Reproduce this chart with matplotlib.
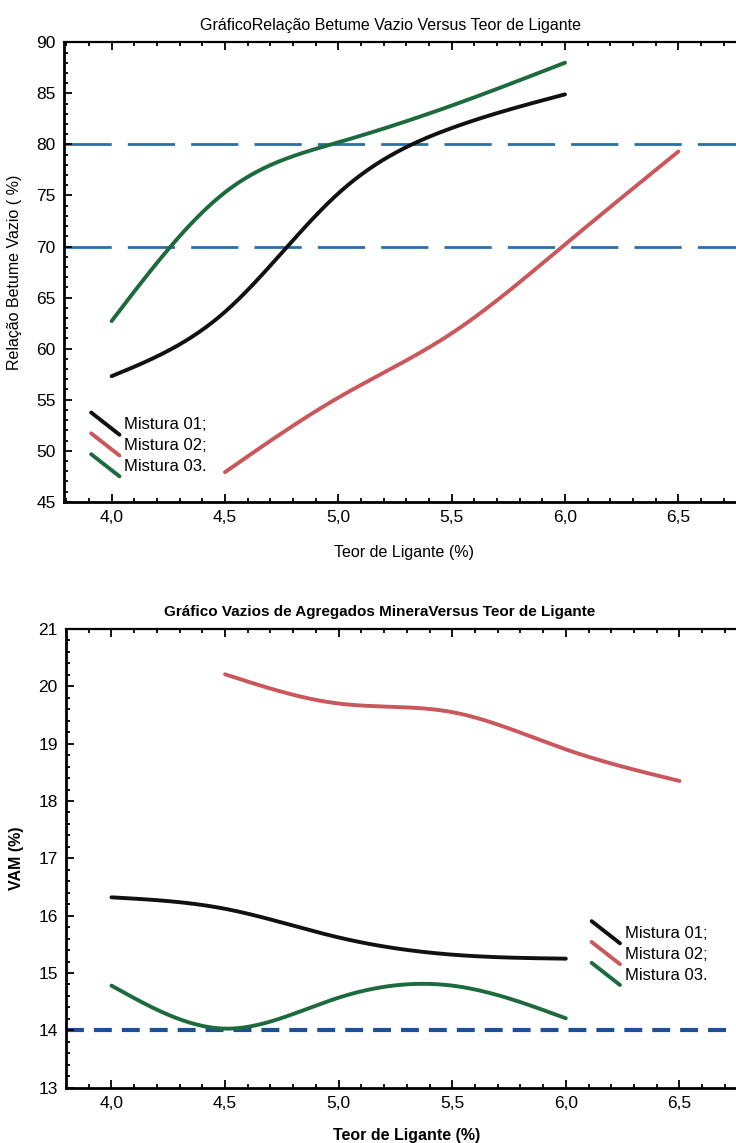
import numpy as np
import matplotlib
matplotlib.use("Agg")
import matplotlib.pyplot as plt
from matplotlib.lines import Line2D
from matplotlib.legend_handler import HandlerLine2D
from matplotlib.ticker import MultipleLocator, FixedLocator, FixedFormatter

plt.rcParams['font.family'] = ['Liberation Sans', 'DejaVu Sans']

# ---------------- data ----------------
teor_top = [4.0, 4.5, 5.0, 5.5, 6.0]
teor_m02_top = [4.5, 5.0, 5.5, 6.0, 6.5]
rbv_m01 = [57.3, 63.6, 75.2, 81.6, 84.9]
rbv_m02 = [47.9, 55.2, 61.5, 70.2, 79.3]
rbv_m03 = [62.7, 75.3, 80.2, 83.8, 88.0]
rbv_limits = [80, 70]

teor_bot = [4.0, 4.5, 5.0, 5.5, 6.0]
teor_m02_bot = [4.5, 5.0, 5.5, 6.0, 6.5]
vam_m01 = [16.32, 16.12, 15.62, 15.32, 15.25]
vam_m02 = [20.21, 19.70, 19.55, 18.90, 18.35]
vam_m03 = [14.78, 14.03, 14.57, 14.78, 14.21]
vam_limit = 14

xticks = [4.0, 4.5, 5.0, 5.5, 6.0, 6.5]
xtick_labels = ["4,0", "4,5", "5,0", "5,5", "6,0", "6,5"]
yticks_top = [45, 50, 55, 60, 65, 70, 75, 80, 85, 90]
yticks_bot = [13, 14, 15, 16, 17, 18, 19, 20, 21]
series_names = ["Mistura 01;", "Mistura 02;", "Mistura 03."]

title_top = "GráficoRelação Betume Vazio Versus Teor de Ligante"
title_bot = "Gráfico Vazios de Agregados MineraVersus Teor de Ligante"
xlabel = "Teor de Ligante (%)"
ylabel_top = "Relação Betume Vazio ( %)"
ylabel_bot = "VAM (%)"

C_BLACK = "#111111"
C_RED = "#c9575b"
C_GREEN = "#1d6a3e"
C_BLUE1 = "#2a6fa8"
C_BLUE2 = "#1b4f98"


def spline(x, y, n=200):
    """Natural cubic spline used only to render a smooth line through the points."""
    x = np.asarray(x, float); y = np.asarray(y, float)
    k = len(x)
    h = np.diff(x)
    A = np.zeros((k, k)); b = np.zeros(k)
    A[0, 0] = 1; A[-1, -1] = 1
    for i in range(1, k - 1):
        A[i, i - 1] = h[i - 1]; A[i, i] = 2 * (h[i - 1] + h[i]); A[i, i + 1] = h[i]
        b[i] = 3 * ((y[i + 1] - y[i]) / h[i] - (y[i] - y[i - 1]) / h[i - 1])
    c = np.linalg.solve(A, b)
    bb = np.zeros(k - 1); d = np.zeros(k - 1)
    for i in range(k - 1):
        bb[i] = (y[i + 1] - y[i]) / h[i] - h[i] * (2 * c[i] + c[i + 1]) / 3
        d[i] = (c[i + 1] - c[i]) / (3 * h[i])
    xs = np.linspace(x[0], x[-1], n)
    idx = np.clip(np.searchsorted(x, xs) - 1, 0, k - 2)
    dx = xs - x[idx]
    ys = y[idx] + bb[idx] * dx + c[idx] * dx ** 2 + d[idx] * dx ** 3
    return xs, ys


class DiagHandler(HandlerLine2D):
    def create_artists(self, legend, orig_handle, xdescent, ydescent, width, height, fontsize, trans):
        line = Line2D([-xdescent, -xdescent + width],
                      [-ydescent + height * 1.45, -ydescent - height * 0.45])
        self.update_prop(line, orig_handle, legend)
        line.set_transform(trans)
        return [line]


def style_axes(ax, yticks, yminor):
    ax.set_xlim(3.79, 6.79)
    ax.xaxis.set_major_locator(FixedLocator(xticks))
    ax.xaxis.set_major_formatter(FixedFormatter(xtick_labels))
    ax.xaxis.set_minor_locator(MultipleLocator(0.1))
    ax.yaxis.set_major_locator(FixedLocator(yticks))
    ax.yaxis.set_minor_locator(MultipleLocator(yminor))
    ax.set_ylim(yticks[0], yticks[-1])
    ax.tick_params(axis='both', which='both', direction='in', top=True, right=False, width=1.3)
    ax.tick_params(axis='both', which='major', length=6, labelsize=12.5, pad=6)
    ax.tick_params(axis='both', which='minor', length=3)
    for s in ['left', 'bottom']:
        ax.spines[s].set_linewidth(2.0)
    ax.spines['top'].set_linewidth(1.6)
    ax.spines['right'].set_visible(False)


fig = plt.figure(figsize=(7.36, 11.43), dpi=100)

# ---------------- top chart ----------------
ax1 = fig.add_axes([0.087, 0.561, 0.924, 0.402])
for yl in rbv_limits:
    ax1.axhline(yl, color=C_BLUE1, lw=2.0, dashes=(17, 5.8), zorder=1)
l1, = ax1.plot(*spline(teor_top, rbv_m01), color=C_BLACK, lw=2.8, solid_capstyle='round')
l2, = ax1.plot(*spline(teor_m02_top, rbv_m02), color=C_RED, lw=2.8, solid_capstyle='round')
l3, = ax1.plot(*spline(teor_top, rbv_m03), color=C_GREEN, lw=2.8, solid_capstyle='round')
style_axes(ax1, yticks_top, 1)
ax1.set_title(title_top, fontsize=11.5, pad=9, x=0.48)
ax1.set_xlabel(xlabel, fontsize=11.5, labelpad=14, x=0.5)
ax1.set_ylabel(ylabel_top, fontsize=11.5, labelpad=10)
ax1.legend([l1, l2, l3], series_names, handler_map={Line2D: DiagHandler()},
           loc='upper left', bbox_to_anchor=(0.108, 0.645), bbox_transform=fig.transFigure,
           frameon=False, fontsize=12, handlelength=1.7, handletextpad=0.3,
           labelspacing=0.35, borderpad=0.2)

# ---------------- bottom chart ----------------
ax2 = fig.add_axes([0.0897, 0.0484, 0.926, 0.4013])
ax2.axhline(vam_limit, color=C_BLUE2, lw=3.0, dashes=(4.3, 2.4), zorder=1)
m1, = ax2.plot(*spline(teor_bot, vam_m01), color=C_BLACK, lw=2.8, solid_capstyle='round')
m2, = ax2.plot(*spline(teor_m02_bot, vam_m02), color=C_RED, lw=2.8, solid_capstyle='round')
m3, = ax2.plot(*spline(teor_bot, vam_m03), color=C_GREEN, lw=2.8, solid_capstyle='round')
style_axes(ax2, yticks_bot, 0.2)
ax2.set_xlim(3.8, 6.8)
ax2.set_title(title_bot, fontsize=11, fontweight='bold', pad=9, x=0.46)
ax2.set_xlabel(xlabel, fontsize=11.5, fontweight='bold', labelpad=12)
ax2.set_ylabel(ylabel_bot, fontsize=11.5, fontweight='bold', labelpad=10)
ax2.legend([m1, m2, m3], series_names, handler_map={Line2D: DiagHandler()},
           loc='upper left', bbox_to_anchor=(0.788, 0.2), bbox_transform=fig.transFigure,
           frameon=False, fontsize=12, handlelength=1.7, handletextpad=0.3,
           labelspacing=0.35, borderpad=0.2)

fig.savefig("out.png", dpi=100)
